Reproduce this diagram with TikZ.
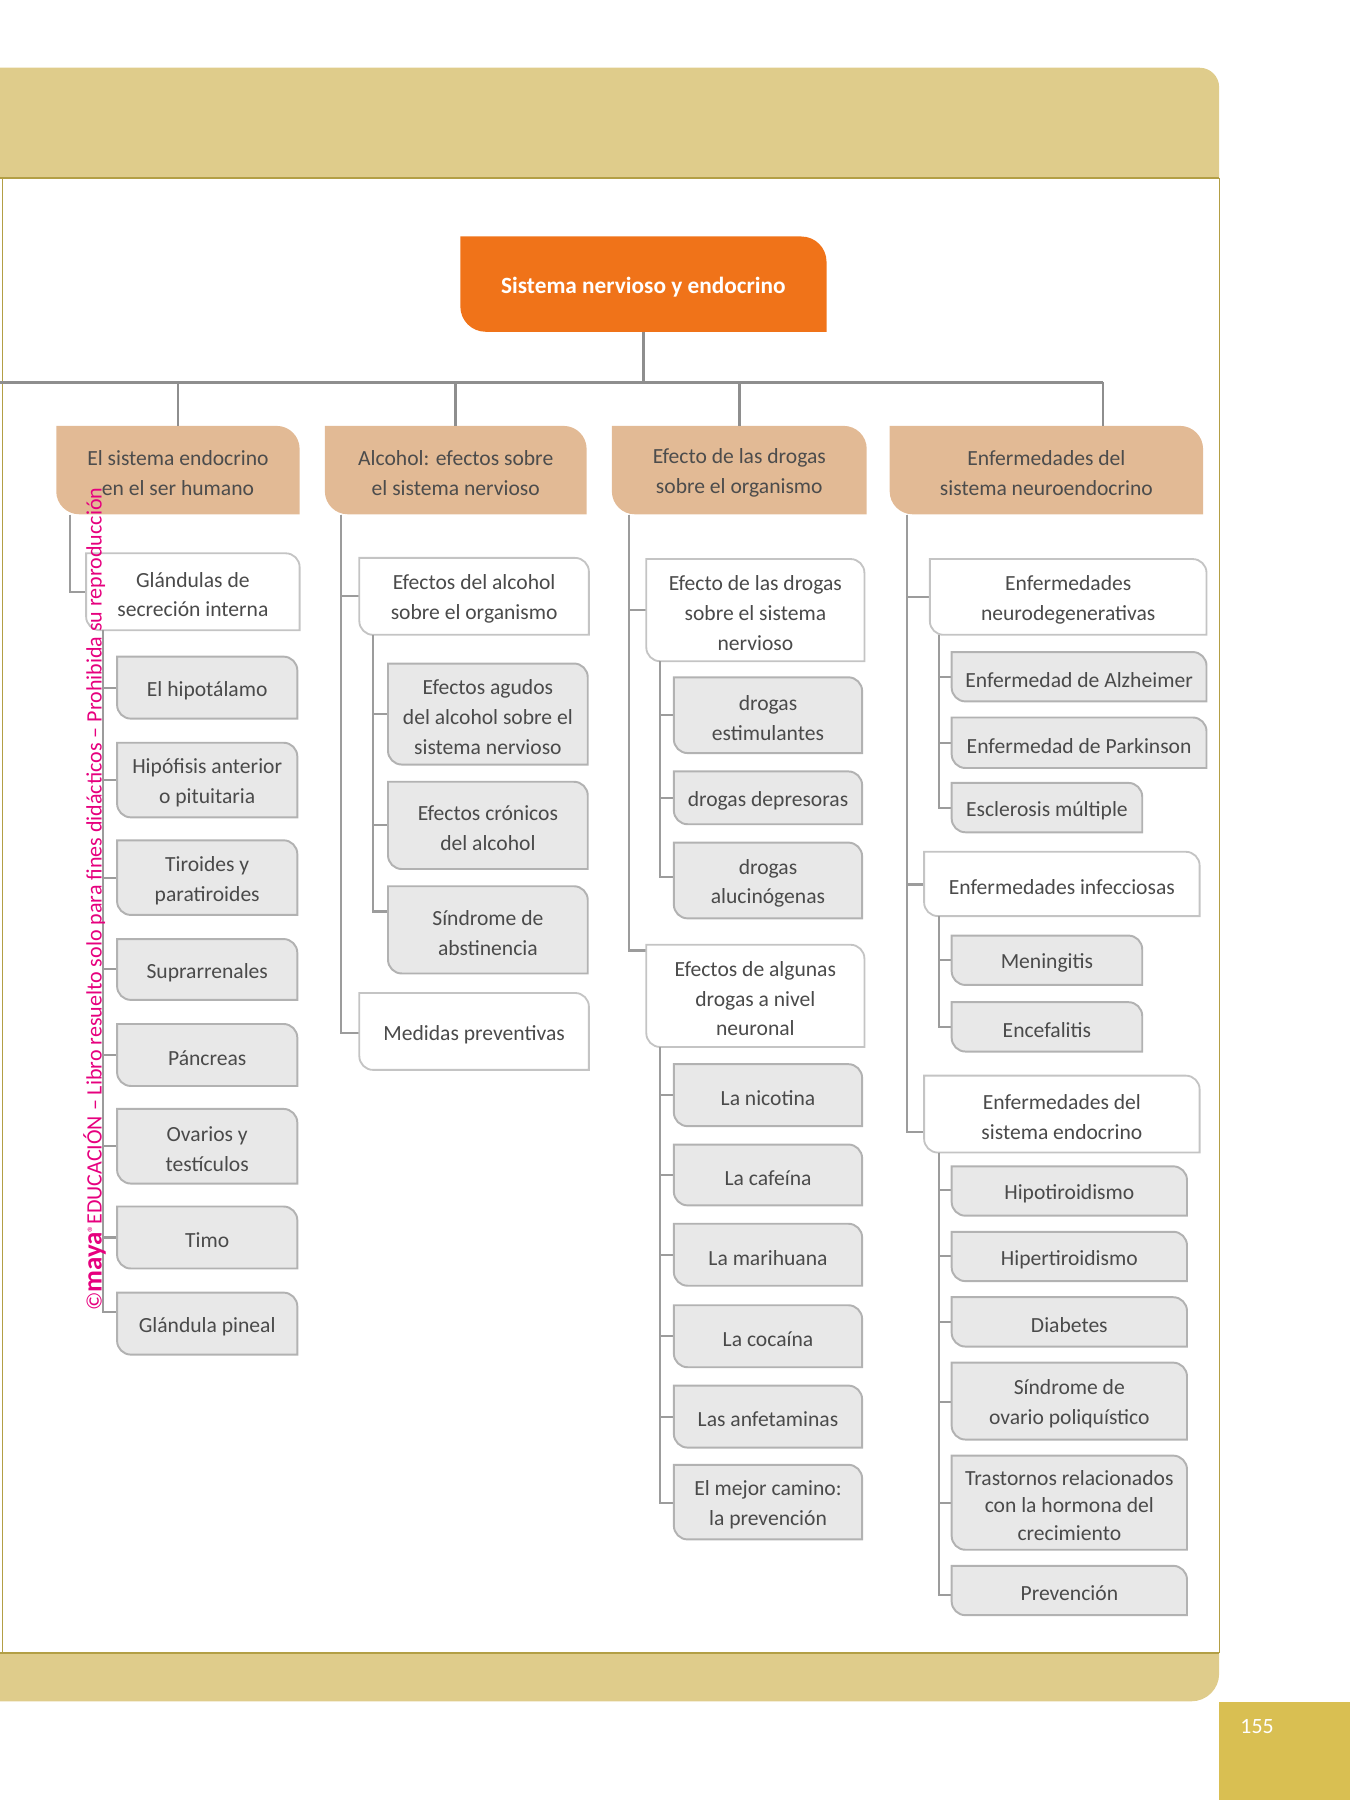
\documentclass[tikz,border=0pt]{standalone}
\usepackage{fontspec}
\setmainfont{Carlito}
\usepackage{graphicx}
\definecolor{band}{HTML}{DFCC8B}
\definecolor{oliveline}{HTML}{B39F45}
\definecolor{gold}{HTML}{D9BF52}
\definecolor{rootor}{HTML}{F07319}
\definecolor{tanc}{HTML}{E2BA95}
\definecolor{grayfill}{HTML}{E8E8E8}
\definecolor{grayline}{HTML}{B2B2B2}
\definecolor{whiteline}{HTML}{C4C4C4}
\definecolor{connc}{HTML}{9C9C9C}
\definecolor{topconnc}{HTML}{8E8E8E}
\definecolor{txtc}{HTML}{4A4A4A}
\definecolor{wmc}{HTML}{E6007E}
\tikzset{
  graybox/.style={fill=grayfill, draw=grayline, line width=1.7pt},
  whitebox/.style={fill=white, draw=whiteline, line width=1.6pt},
  tanbox/.style={fill=tanc},
  rootbox/.style={fill=rootor},
  txt/.style={text=txtc, align=center, inner sep=0pt, font=\fontsize{18.8}{26}\selectfont},
  hdtxt/.style={txt, text=black!70},
  roottxt/.style={align=center, inner sep=0pt, text=white, font=\bfseries\fontsize{20.3}{24}\selectfont},
  conn/.style={draw=connc, line width=1.8pt},
  topconn/.style={draw=topconnc, line width=2.2pt},
}
% #1 path style, #2 radius, #3 name, #4 x1, #5 y1, #6 x2, #7 y2, #8 text style, #9 text
\newcommand{\tbox}[9]{%
  \path[#1] (#4,#5) -- ({#6-#2},#5) .. controls ({#6-0.448*#2},#5) and (#6,{#5+0.448*#2}) .. (#6,{#5+#2})
    -- (#6,#7) -- ({#4+#2},#7) .. controls ({#4+0.448*#2},#7) and (#4,{#7-0.448*#2}) .. (#4,{#7-#2}) -- cycle;
  \node[inner sep=0pt, minimum width={(#6-#4)*1pt}, minimum height={(#7-#5)*1pt}] (#3) at ({(#4+#6)/2},{(#5+#7)/2}) {};
  \node[#8] at ([yshift=-2.5pt]#3.center) {#9};
}
\begin{document}
\begin{tikzpicture}[x=1pt,y=-1pt]
\useasboundingbox (0,0) rectangle (1176,1568);
% page bands
\fill[band] (0,59) -- (1045,59) .. controls (1054.4,59) and (1062,66.6) .. (1062,76) -- (1062,155) -- (0,155) -- cycle;
\fill[band] (0,1440) -- (1062,1440) -- (1062,1458) .. controls (1062,1471.2) and (1051.2,1482) .. (1038,1482) -- (0,1482) -- cycle;
\draw[oliveline, line width=1.3pt] (0,155) -- (1062,155);
\draw[oliveline, line width=1.3pt] (0,1440) -- (1062,1440);
\draw[oliveline, line width=1pt] (2,155) -- (2,1440);
\draw[oliveline, line width=1pt] (1062,155) -- (1062,1440);
\fill[gold] (1062,1483) rectangle (1176,1568);
\node[text=white, font=\fontsize{19}{22}\selectfont, inner sep=0pt] (pg) at (1095,1504) {155};

% root and level 1 boxes
\tbox{rootbox}{22}{root}{401}{206}{720}{289}{roottxt}{Sistema nervioso y endocrino}
\tbox{tanbox}{20}{a}{49}{371}{261}{448}{hdtxt}{El sistema endocrino\\en el ser humano}
\tbox{tanbox}{20}{b}{283}{371}{511}{448}{hdtxt}{Alcohol: efectos sobre\\el sistema nervioso}
\tbox{tanbox}{20}{c}{533}{371}{755}{448}{hdtxt}{Efecto de las drogas\\sobre el organismo}
\tbox{tanbox}{20}{d}{775}{371}{1048}{448}{hdtxt}{Enfermedades del\\sistema neuroendocrino}

% top connectors
\coordinate (barL) at (0,333);
\coordinate (barR) at (961,333);
\draw[topconn] (root.south) -- (root.south |- barL);
\draw[topconn] (barL) -- (barR);
\draw[topconn] (a.north |- barL) -- (a.north);
\draw[topconn] (b.north |- barL) -- (b.north);
\draw[topconn] (c.north |- barL) -- (c.north);
\draw[topconn] (barR) -- (barR |- d.north);

% ---------- column 1 ----------
\coordinate (ta) at ([xshift=12pt]a.south west);
\draw[conn] (ta) |- (75,515.5);
\tbox{whitebox}{12}{gl}{75}{482}{261}{549}{txt}{Glándulas de\\secreción interna}
\coordinate (tgl) at ([xshift=15pt]gl.south west);
\draw[conn] (tgl) |- (102,599);
\draw[conn] (tgl) |- (102,679.5);
\draw[conn] (tgl) |- (102,764.5);
\draw[conn] (tgl) |- (102,844.5);
\draw[conn] (tgl) |- (102,919);
\draw[conn] (tgl) |- (102,998.5);
\draw[conn] (tgl) |- (102,1078);
\draw[conn] (tgl) |- (102,1143);
\tbox{graybox}{12}{hip}{102}{572}{259}{626}{txt}{El hipotálamo}
\tbox{graybox}{12}{hipo}{102}{647}{259}{712}{txt}{Hipófisis anterior\\o pituitaria}
\tbox{graybox}{12}{tir}{102}{732}{259}{797}{txt}{Tiroides y\\paratiroides}
\tbox{graybox}{12}{sup}{102}{818}{259}{871}{txt}{Suprarrenales}
\tbox{graybox}{12}{pan}{102}{892}{259}{946}{txt}{Páncreas}
\tbox{graybox}{12}{ova}{102}{966}{259}{1031}{txt}{Ovarios y\\testículos}
\tbox{graybox}{12}{tim}{102}{1051}{259}{1105}{txt}{Timo}
\tbox{graybox}{12}{pin}{102}{1126}{259}{1180}{txt}{Glándula pineal}

% ---------- column 2 ----------
\coordinate (tb) at ([xshift=14pt]b.south west);
\draw[conn] (tb) |- (313,519.5);
\draw[conn] (tb) |- (313,900);
\tbox{whitebox}{12}{efa}{313}{486}{513}{553}{txt}{Efectos del alcohol\\sobre el organismo}
\tbox{whitebox}{12}{med}{313}{865}{513}{932}{txt}{Medidas preventivas}
\coordinate (tefa) at ([xshift=12pt]efa.south west);
\draw[conn] (tefa) |- (338,622);
\draw[conn] (tefa) |- (338,719);
\draw[conn] (tefa) |- (338,794);
\tbox{graybox}{12}{agu}{338}{578}{512}{666}{txt}{Efectos agudos\\del alcohol sobre el\\sistema nervioso}
\tbox{graybox}{12}{cro}{338}{681}{512}{757}{txt}{Efectos crónicos\\del alcohol}
\tbox{graybox}{12}{sin}{338}{772}{512}{848}{txt}{Síndrome de\\abstinencia}

% ---------- column 3 ----------
\coordinate (tc) at ([xshift=15pt]c.south west);
\draw[conn] (tc) |- (563,531);
\draw[conn] (tc) |- (563,828);
\tbox{whitebox}{12}{eds}{563}{487}{753}{576}{txt}{Efecto de las drogas\\sobre el sistema\\nervioso}
\tbox{whitebox}{12}{ean}{563}{823}{753}{912}{txt}{Efectos de algunas\\drogas a nivel\\neuronal}
\coordinate (teds) at ([xshift=12pt]eds.south west);
\draw[conn] (teds) |- (587,623);
\draw[conn] (teds) |- (587,695);
\draw[conn] (teds) |- (587,764);
\tbox{graybox}{12}{est}{587}{590}{751}{656}{txt}{drogas\\estimulantes}
\tbox{graybox}{12}{dep}{587}{672}{751}{718}{txt}{drogas depresoras}
\tbox{graybox}{12}{alu}{587}{734}{751}{800}{txt}{drogas\\alucinógenas}
\coordinate (tean) at ([xshift=12pt]ean.south west);
\draw[conn] (tean) |- (587,954);
\draw[conn] (tean) |- (587,1023.5);
\draw[conn] (tean) |- (587,1093);
\draw[conn] (tean) |- (587,1164);
\draw[conn] (tean) |- (587,1234);
\draw[conn] (tean) |- (587,1309);
\tbox{graybox}{12}{nic}{587}{927}{751}{981}{txt}{La nicotina}
\tbox{graybox}{12}{caf}{587}{997}{751}{1050}{txt}{La cafeína}
\tbox{graybox}{12}{mar}{587}{1066}{751}{1120}{txt}{La marihuana}
\tbox{graybox}{12}{coc}{587}{1137}{751}{1191}{txt}{La cocaína}
\tbox{graybox}{12}{anf}{587}{1207}{751}{1261}{txt}{Las anfetaminas}
\tbox{graybox}{12}{mej}{587}{1276}{751}{1341}{txt}{El mejor camino:\\la prevención}

% ---------- column 4 ----------
\coordinate (td) at ([xshift=15pt]d.south west);
\draw[conn] (td) |- (810,520);
\draw[conn] (td) |- (805,770.5);
\draw[conn] (td) |- (805,986);
\tbox{whitebox}{12}{neu}{810}{487}{1051}{553}{txt}{Enfermedades\\neurodegenerativas}
\tbox{whitebox}{12}{inf}{805}{742}{1045}{798}{txt}{Enfermedades infecciosas}
\tbox{whitebox}{12}{endo}{805}{937}{1045}{1004}{txt}{Enfermedades del\\sistema endocrino}
\coordinate (tneu) at ([xshift=8pt]neu.south west);
\draw[conn] (tneu) |- (829,589.5);
\draw[conn] (tneu) |- (829,647);
\draw[conn] (tneu) |- (829,703.5);
\tbox{graybox}{12}{alz}{829}{568}{1051}{611}{txt}{Enfermedad de Alzheimer}
\tbox{graybox}{12}{par}{829}{625}{1051}{669}{txt}{Enfermedad de Parkinson}
\tbox{graybox}{12}{esc}{829}{682}{995}{725}{txt}{Esclerosis múltiple}
\coordinate (tinf) at ([xshift=13pt]inf.south west);
\draw[conn] (tinf) |- (829,836.5);
\draw[conn] (tinf) |- (829,894.5);
\tbox{graybox}{12}{men}{829}{815}{995}{858}{txt}{Meningitis}
\tbox{graybox}{12}{enc}{829}{873}{995}{916}{txt}{Encefalitis}
\coordinate (tendo) at ([xshift=13pt]endo.south west);
\draw[conn] (tendo) |- (829,1037);
\draw[conn] (tendo) |- (829,1094.5);
\draw[conn] (tendo) |- (829,1151.5);
\draw[conn] (tendo) |- (829,1221);
\draw[conn] (tendo) |- (829,1309);
\draw[conn] (tendo) |- (829,1389);
\tbox{graybox}{12}{hpo}{829}{1016}{1034}{1059}{txt}{Hipotiroidismo}
\tbox{graybox}{12}{hpe}{829}{1073}{1034}{1116}{txt}{Hipertiroidismo}
\tbox{graybox}{12}{dia}{829}{1130}{1034}{1173}{txt}{Diabetes}
\tbox{graybox}{12}{sop}{829}{1187}{1034}{1254}{txt}{Síndrome de\\ovario poliquístico}
\tbox{graybox}{12}{tra}{829}{1268}{1034}{1350}{txt, font=\fontsize{18.8}{24}\selectfont}{Trastornos relacionados\\con la hormona del\\crecimiento}
\tbox{graybox}{12}{pre}{829}{1364}{1034}{1407}{txt}{Prevención}

% watermark
\node[rotate=90, anchor=base west, inner sep=0pt, text=wmc] (wm) at (88.5,1142)
  {\resizebox{717pt}{!}{\fontsize{18}{20}\selectfont ©{\bfseries\fontsize{22}{22}\selectfont maya}\raisebox{3pt}{\fontsize{12}{12}\selectfont ®}EDUCACIÓN – Libro resuelto solo para fines didácticos – Prohibida su reproducción}};
\end{tikzpicture}
\end{document}
